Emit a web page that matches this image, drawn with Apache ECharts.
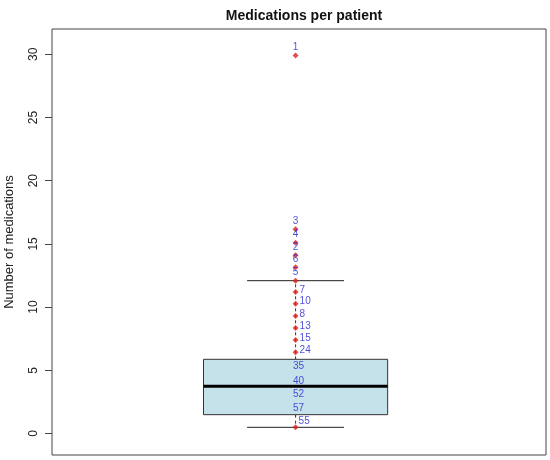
<!DOCTYPE html>
<html>
<head>
<meta charset="utf-8">
<script src="https://cdn.jsdelivr.net/npm/echarts@6/dist/echarts.min.js"></script>
<style>
  html, body { margin: 0; padding: 0; background: #fff; }
  #chart { width: 550px; height: 460px; }
</style>
</head>
<body>
<div id="chart"></div>
<script>
// box stats: lower whisker, Q1, median, Q3, upper whisker
const boxStats = [0.49, 1.49, 3.73, 5.87, 12.09];

// labelled points above the upper whisker (label on top)
const topIds = ['1', '3', '4', '2', '6', '5'];
const topVals = [29.9, 16.15, 15.1, 14.1, 13.15, 12.09];

// labelled points with label to the right
const sideIds = ['7', '10', '8', '13', '15', '24', '55'];
const sideVals = [11.2, 10.27, 9.3, 8.35, 7.4, 6.42, 0.49];

// points hidden behind the box, only their labels show
const boxIds = ['35', '40', '52', '57'];
const boxVals = [4.71, 3.54, 2.49, 1.36];

const yTicks = [0, 5, 10, 15, 20, 25, 30];

const FONT = 'Liberation Sans, Arial, sans-serif';
const BLUE = '#1f1fd0';

const chart = echarts.init(document.getElementById('chart'));

function pts(ids, vals) {
  return ids.map((id, i) => ({ name: id, value: [1, vals[i]] }));
}

const option = {
  animation: false,
  title: {
    text: 'Medications per patient',
    left: 299, top: 4, textAlign: 'center',
    textStyle: { fontFamily: FONT, fontSize: 14, fontWeight: 'bold', color: '#111' }
  },
  grid: {
    left: 52, right: 4, top: 29, bottom: 5,
    outerBoundsMode: 'none', containLabel: false,
    show: true, borderColor: '#444', borderWidth: 1, backgroundColor: 'transparent'
  },
  xAxis: { type: 'value', min: 0.5, max: 1.514, show: false },
  yAxis: {
    type: 'value', min: -1.7, max: 32.0,
    name: 'Number of medications', nameLocation: 'middle', nameGap: 36,
    nameTextStyle: { fontFamily: FONT, fontSize: 13, color: '#222' },
    axisLine: { show: false },
    splitLine: { show: false },
    axisTick: { show: true, length: 7, customValues: yTicks, lineStyle: { color: '#444' } },
    axisLabel: {
      customValues: yTicks, rotate: 90, margin: 12,
      fontFamily: FONT, fontSize: 12, color: '#222'
    }
  },
  series: [
    {
      type: 'custom',
      z: 3,
      data: [[1].concat(boxStats)],
      renderItem: function (params, api) {
        const x = api.value(0);
        const lo = api.coord([x, api.value(1)]);
        const q1 = api.coord([x, api.value(2)]);
        const med = api.coord([x, api.value(3)]);
        const q3 = api.coord([x, api.value(4)]);
        const hi = api.coord([x, api.value(5)]);
        const bl = api.coord([x - 0.189, 0])[0];
        const br = api.coord([x + 0.189, 0])[0];
        const cl = api.coord([x - 0.0995, 0])[0];
        const cr = api.coord([x + 0.0995, 0])[0];
        const cx = lo[0];
        const dash = { stroke: '#333', lineWidth: 1, lineDash: [3, 3] };
        const solid = { stroke: '#222', lineWidth: 1 };
        return {
          type: 'group',
          children: [
            { type: 'line', shape: { x1: cx, y1: q3[1], x2: cx, y2: hi[1] }, style: dash },
            { type: 'line', shape: { x1: cx, y1: q1[1], x2: cx, y2: lo[1] }, style: dash },
            { type: 'line', shape: { x1: cl, y1: hi[1], x2: cr, y2: hi[1] }, style: solid },
            { type: 'line', shape: { x1: cl, y1: lo[1], x2: cr, y2: lo[1] }, style: solid },
            { type: 'rect', shape: { x: bl, y: q3[1], width: br - bl, height: q1[1] - q3[1] },
              style: { fill: '#c5e1ea', stroke: '#333', lineWidth: 1 } },
            { type: 'line', shape: { x1: bl, y1: med[1], x2: br, y2: med[1] },
              style: { stroke: '#000', lineWidth: 3 } }
          ]
        };
      }
    },
    {
      type: 'scatter', z: 5,
      symbol: 'diamond', symbolSize: 6,
      itemStyle: { color: '#e0201c' },
      data: pts(topIds, topVals),
      label: {
        show: true, position: 'top', distance: 0, formatter: '{b}',
        fontFamily: FONT, fontSize: 10, color: BLUE
      }
    },
    {
      type: 'scatter', z: 5,
      symbol: 'diamond', symbolSize: 6,
      itemStyle: { color: '#e0201c' },
      data: pts(sideIds, sideVals).map(d => d.name === '55'
        ? Object.assign(d, { label: { offset: [-1, -6] } }) : d),
      label: {
        show: true, position: 'right', distance: 1, offset: [0, -2], formatter: '{b}',
        fontFamily: FONT, fontSize: 10, color: BLUE
      }
    },
    {
      type: 'scatter', z: 5,
      symbol: 'diamond', symbolSize: 6,
      itemStyle: { color: 'rgba(0,0,0,0)' },
      data: pts(boxIds, boxVals),
      label: {
        show: true, position: 'top', distance: 0, offset: [3, 0], formatter: '{b}',
        fontFamily: FONT, fontSize: 10, color: BLUE
      }
    }
  ]
};

chart.setOption(option);
</script>
</body>
</html>
